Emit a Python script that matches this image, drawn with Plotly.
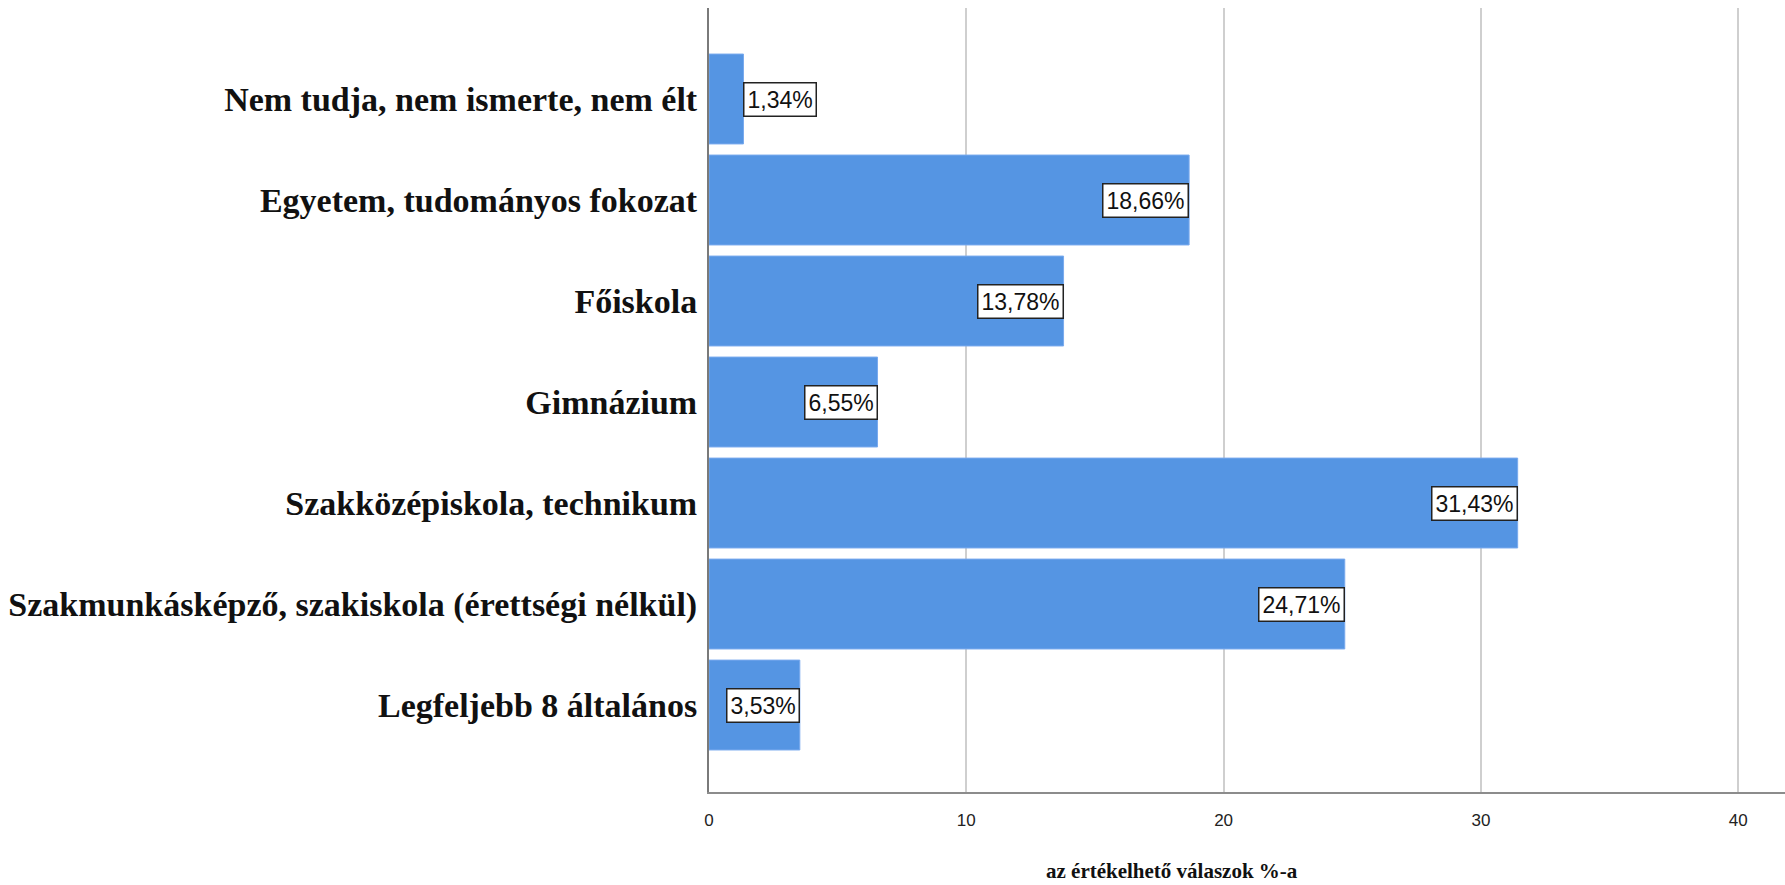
import plotly.graph_objects as go

# Education levels, listed top to bottom as they appear on the chart
categories = [
    "Nem tudja, nem ismerte, nem élt",
    "Egyetem, tudományos fokozat",
    "Főiskola",
    "Gimnázium",
    "Szakközépiskola, technikum",
    "Szakmunkásképző, szakiskola (érettségi nélkül)",
    "Legfeljebb 8 általános",
]
percentages = [1.34, 18.66, 13.78, 6.55, 31.43, 24.71, 3.53]
x_ticks = [0, 10, 20, 30, 40]

BAR_COLOR = "#5595e3"
W, H = 1785, 885
PLOT_LEFT, PLOT_TOP, PLOT_BOTTOM = 709, 8, 792

fig = go.Figure()
fig.add_trace(go.Bar(
    x=percentages,
    y=categories,
    orientation="h",
    marker=dict(color=BAR_COLOR, line=dict(color="#79aaee", width=1)),
    width=0.89,
    hoverinfo="skip",
))

# Value labels in boxed tags at the bar ends
for cat, val in zip(categories, percentages):
    outside = val < 2
    fig.add_annotation(
        x=val, y=cat, xref="x", yref="y",
        text=f"{val:.2f}%".replace(".", ","),
        showarrow=False,
        xanchor="left" if outside else "right",
        yanchor="middle",
        font=dict(family="Liberation Sans, Arial, sans-serif", size=23, color="#111111"),
        bgcolor="white",
        bordercolor="#222222",
        borderwidth=1.5,
        borderpad=3,
    )

plot_h = PLOT_BOTTOM - PLOT_TOP
fig.add_annotation(
    text="<b>az értékelhető válaszok %-a</b>",
    xref="paper", yref="paper",
    x=(1172 - PLOT_LEFT) / (W - PLOT_LEFT),
    y=-(871 - PLOT_BOTTOM) / plot_h,
    xanchor="center", yanchor="middle",
    showarrow=False,
    font=dict(family="Liberation Serif, Times New Roman, serif", size=21, color="#111111"),
)

fig.update_layout(
    width=W, height=H,
    margin=dict(l=PLOT_LEFT, r=0, t=PLOT_TOP, b=H - PLOT_BOTTOM, pad=0),
    paper_bgcolor="white",
    plot_bgcolor="white",
    showlegend=False,
    bargap=0.11,
)

fig.update_xaxes(
    range=[0, 41.82],
    tickvals=x_ticks,
    ticktext=[str(t) for t in x_ticks],
    showgrid=True, gridcolor="#cfcfcf", gridwidth=2,
    zeroline=False,
    showline=True, linecolor="#8c8c8c", linewidth=2,
    ticks="", ticklabelstandoff=12,
    tickfont=dict(family="Liberation Sans, Arial, sans-serif", size=17, color="#222222"),
)

fig.update_yaxes(
    type="category",
    categoryorder="array",
    categoryarray=categories,
    range=[6.861, -0.901],
    showgrid=False,
    zeroline=False,
    showline=True, linecolor="#7a7a7a", linewidth=2,
    ticks="", ticklabelstandoff=3,
    tickfont=dict(family="Liberation Serif, Times New Roman, serif", size=34, color="#111111", weight="bold"),
)

fig.write_html("out.html")
